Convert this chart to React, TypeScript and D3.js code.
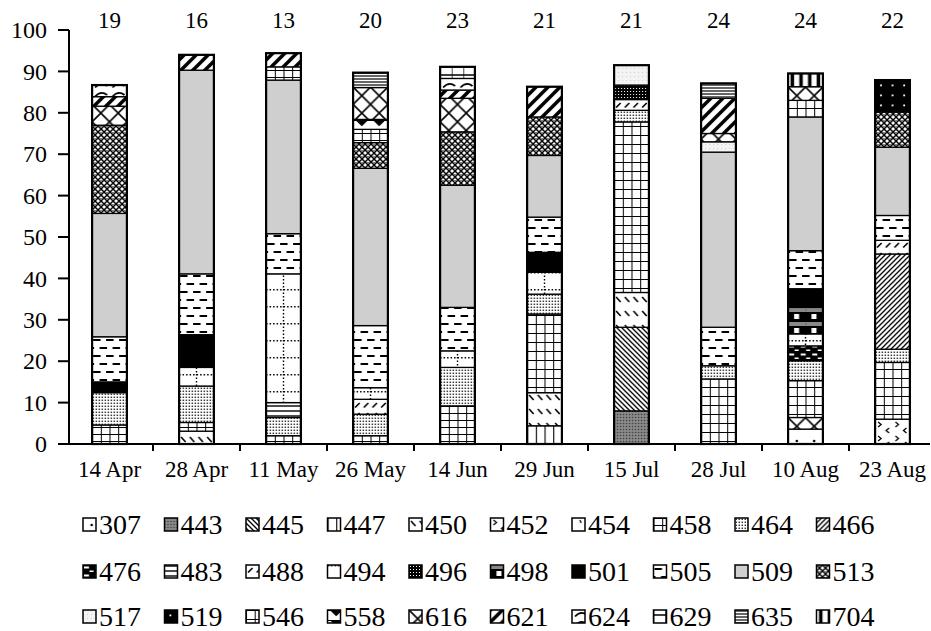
import React from 'react';
import * as d3 from 'd3';

const dates = ["14 Apr", "28 Apr", "11 May", "26 May", "14 Jun", "29 Jun", "15 Jul", "28 Jul", "10 Aug", "23 Aug"];
const speciesCounts = [19, 16, 13, 20, 23, 21, 21, 24, 24, 22];
const yTicks = [0, 10, 20, 30, 40, 50, 60, 70, 80, 90, 100];
const legendRow1 = ["307", "443", "445", "447", "450", "452", "454", "458", "464", "466"];
const legendRow2 = ["476", "483", "488", "494", "496", "498", "501", "505", "509", "513"];
const legendRow3 = ["517", "519", "546", "558", "616", "621", "624", "629", "635", "704"];

// stacked segments, bottom to top: [species code, percentage]
const apr14: [string, number][] = [["458", 4.6], ["464", 7.8], ["501", 2.6], ["505", 10.9], ["509", 29.8], ["513", 21.3], ["616", 4.6], ["621", 2.3], ["624", 2.8]];
const apr28: [string, number][] = [["450", 3.1], ["458", 2.1], ["464", 8.8], ["494", 4.5], ["501", 7.9], ["505", 14.7], ["509", 49.2], ["621", 3.7]];
const may11: [string, number][] = [["458", 2.0], ["464", 4.4], ["483", 3.6], ["494", 31.1], ["505", 9.7], ["509", 37.1], ["458", 3.2], ["621", 3.3]];
const may26: [string, number][] = [["458", 2.0], ["464", 5.2], ["488", 3.6], ["494", 2.8], ["505", 15.0], ["509", 38.0], ["513", 6.2], ["458", 3.2], ["558", 2.4], ["616", 7.7], ["635", 3.6]];
const jun14: [string, number][] = [["458", 9.2], ["464", 9.3], ["494", 4.0], ["505", 10.5], ["509", 29.5], ["513", 12.9], ["616", 8.1], ["621", 2.0], ["624", 2.8], ["629", 2.8]];
const jun29: [string, number][] = [["447", 4.4], ["450", 8.0], ["546", 19.0], ["464", 4.8], ["494", 5.3], ["501", 4.8], ["505", 8.5], ["509", 14.9], ["513", 9.3], ["621", 7.3]];
const jul15: [string, number][] = [["443", 8.0], ["445", 20.2], ["450", 8.4], ["546", 41.2], ["464", 2.8], ["488", 2.6], ["496", 3.5], ["517", 4.8]];
const jul28: [string, number][] = [["546", 15.7], ["464", 3.2], ["505", 9.3], ["509", 42.3], ["517", 2.5], ["616", 2.0], ["621", 8.5], ["635", 3.6]];
const aug10: [string, number][] = [["307", 3.6], ["616", 2.8], ["546", 8.9], ["464", 4.8], ["476", 3.6], ["494", 2.9], ["498", 6.4], ["501", 4.5], ["505", 9.2], ["509", 32.3], ["546", 4.0], ["616", 3.3], ["704", 3.2]];
const aug23: [string, number][] = [["452", 6.0], ["546", 13.7], ["464", 3.2], ["466", 23.0], ["488", 3.3], ["505", 6.0], ["509", 16.5], ["513", 8.5], ["519", 7.7]];

const stacks = [apr14, apr28, may11, may26, jun14, jun29, jul15, jul28, aug10, aug23];

const FONT = "'Liberation Serif', 'Times New Roman', serif";

function Patterns() {
  const P = (id: string, w: number, h: number, bg: string, children: React.ReactNode) => (
    <pattern id={"p" + id} key={id} patternUnits="userSpaceOnUse" width={w} height={h}>
      <rect width={w} height={h} fill={bg} />
      {children}
    </pattern>
  );
  return (
    <defs>
      {P("307", 17.4, 14, "#fff", <circle cx={8.7} cy={7} r={1.3} fill="#000" />)}
      {P("443", 3, 3, "#7d7d7d", <><rect width={1} height={1} fill="#3a3a3a" /><rect x={1.5} y={1.5} width={1} height={1} fill="#b0b0b0" /></>)}
      {P("445", 5, 5, "#fff", <path d="M0,0 L5,5 M-1,4 L1,6 M4,-1 L6,1" stroke="#000" strokeWidth={1.3} />)}
      {P("447", 8.7, 10, "#fff", <path d="M0,0 V10" stroke="#000" strokeWidth={2.2} />)}
      {P("450", 8.7, 14, "#fff", <path d="M2,3 L6.5,8" stroke="#000" strokeWidth={1.6} />)}
      {P("452", 17.4, 14, "#fff", <path d="M3,2 L6,4.5 L3,7 M14,8 L11,10.5 L14,13" stroke="#000" strokeWidth={1.3} fill="none" />)}
      {P("454", 17.4, 14, "#fff", <path d="M8,2 L9,5" stroke="#000" strokeWidth={1.3} />)}
      {P("458", 8.7, 7, "#fff", <path d="M0,0 H8.7 M0,0 V7" stroke="#000" strokeWidth={2} />)}
      {P("464", 3, 3, "#fff", <rect x={0.6} y={0.6} width={1.3} height={1.3} fill="#000" />)}
      {P("466", 5, 5, "#fff", <path d="M0,5 L5,0 M-1,1 L1,-1 M4,6 L6,4" stroke="#000" strokeWidth={1.3} />)}
      {P("476", 11.6, 8, "#000", <><rect x={1} y={1.5} width={5} height={2} fill="#fff" /><rect x={6.5} y={5.5} width={4} height={1.5} fill="#fff" /></>)}
      {P("483", 10, 5, "#fff", <path d="M0,1 H10" stroke="#000" strokeWidth={1.4} />)}
      {P("488", 8.7, 10, "#fff", <path d="M2,7.5 L6.5,3" stroke="#000" strokeWidth={1.7} />)}
      {P("494", 34.8, 17, "#fff", <path d="M17.4,0 V17 M0,0.8 H34.8" stroke="#000" strokeWidth={1.4} strokeDasharray="1.5,2" />)}
      {P("496", 3, 3, "#000", <rect x={1} y={1} width={1} height={1} fill="#fff" />)}
      {P("498", 17.4, 14, "#000", <><rect width={17.4} height={4} fill="#888" /><rect x={0} y={1.5} width={1} height={1} fill="#444" /><rect x={6} y={6} width={5} height={5} fill="#fff" /></>)}
      {P("501", 4, 4, "#000", null)}
      {P("505", 13, 16, "#fff", <path d="M1,4 H8.5 M7.5,12 H15 M-5.5,12 H2" stroke="#000" strokeWidth={2} />)}
      {P("509", 4, 4, "#cfcfcf", null)}
      {P("513", 6, 6, "#fff", <><path d="M0,0 L6,6 M6,0 L0,6" stroke="#000" strokeWidth={1.5} /><rect x={2.5} y={0} width={1} height={1} fill="#000" /></>)}
      {P("517", 4, 4, "#f3f3f3", <rect width={1} height={1} fill="#cfcfcf" />)}
      {P("519", 11.6, 10, "#000", <rect x={5} y={4.5} width={1.8} height={1.8} fill="#fff" />)}
      {P("546", 8.7, 9, "#fff", <path d="M0,0 H8.7 M0,0 V9" stroke="#000" strokeWidth={2} />)}
      {P("558", 17.4, 10, "#fff", <path d="M0,0.5 H17.4 M4,1 L13.4,1 L8.7,5.5 Z" stroke="#000" strokeWidth={1} fill="#000" />)}
      {P("616", 17.4, 17.4, "#fff", <path d="M0,0 L17.4,17.4 M17.4,0 L0,17.4" stroke="#000" strokeWidth={1.6} />)}
      {P("621", 12, 12, "#fff", <path d="M-3,3 L3,-3 M0,12 L12,0 M9,15 L15,9" stroke="#000" strokeWidth={3.5} />)}
      {P("624", 17.4, 9, "#fff", <path d="M3,6.5 Q9,0 15,5" stroke="#000" strokeWidth={1.8} fill="none" />)}
      {P("629", 11.6, 10, "#fff", <path d="M0,0 V10 M0,5 H11.6" stroke="#000" strokeWidth={1.4} />)}
      {P("635", 10, 3, "#fff", <path d="M0,1 H10" stroke="#000" strokeWidth={1.2} />)}
      {P("704", 8.7, 10, "#fff", <rect x={2.5} y={0} width={3.5} height={10} fill="#000" />)}
    </defs>
  );
}

export default function App() {
  const width = 931;
  const height = 631;
  const x = d3.scaleBand<string>().domain(dates).range([66, 936]).paddingInner(0.6).paddingOuter(0.3);
  const y = d3.scaleLinear().domain([0, 100]).range([444, 30]);
  const bw = x.bandwidth();
  const step = x.step();
  const axisX = 69;

  const legendRows = [legendRow1, legendRow2, legendRow3];
  const legendBaselines = [534, 581, 626];

  return (
    <svg width={width} height={height} style={{ position: 'absolute', left: 0, top: 0, background: '#fff' }} fontFamily={FONT}>
      <Patterns />
      {dates.map((d, i) => {
        const segs = stacks[i];
        const tops = d3.cumsum(segs.map(s => s[1]));
        const total = tops[tops.length - 1];
        return (
          <g key={d} transform={`translate(${x(d)},0)`}>
            {segs.map((s, j) => {
              const lo = j === 0 ? 0 : tops[j - 1];
              const hi = tops[j];
              return (
                <rect key={j} x={0} width={bw} y={y(hi)} height={y(lo) - y(hi)}
                  fill={`url(#p${s[0]})`} stroke="#000" strokeWidth={1.3} />
              );
            })}
            <rect x={0} width={bw} y={y(total)} height={y(0) - y(total)} fill="none" stroke="#000" strokeWidth={2.2} />
          </g>
        );
      })}
      {dates.map((d, i) => (
        <text key={"c" + d} x={(x(d) as number) + bw / 2} y={28} textAnchor="middle" fontSize={23}>{speciesCounts[i]}</text>
      ))}
      <line x1={axisX} x2={axisX} y1={y(100)} y2={y(0)} stroke="#000" strokeWidth={2} />
      {yTicks.map(t => (
        <g key={"yt" + t}>
          <line x1={axisX - 11} x2={axisX} y1={y(t)} y2={y(t)} stroke="#000" strokeWidth={2} />
          <text x={axisX - 22} y={y(t)} dy="0.34em" textAnchor="end" fontSize={24}>{t}</text>
        </g>
      ))}
      <line x1={axisX} x2={930} y1={y(0)} y2={y(0)} stroke="#000" strokeWidth={2} />
      {dates.slice(1).map(d => (
        <line key={"xt" + d} x1={(x(d) as number) - step * 0.3} x2={(x(d) as number) - step * 0.3} y1={y(0)} y2={y(0) + 7} stroke="#000" strokeWidth={2} />
      ))}
      {dates.map(d => (
        <text key={"xl" + d} x={(x(d) as number) + bw / 2} y={477} textAnchor="middle" fontSize={23}>{d}</text>
      ))}
      {legendRows.map((row, r) => row.map((code, c) => {
        const lx = 83 + c * 81.5;
        const by = legendBaselines[r];
        return (
          <g key={"lg" + code} transform={`translate(${lx},${by - 16})`}>
            <rect x={0} y={0} width={13} height={13} fill={`url(#p${code})`} stroke="#000" strokeWidth={1.5} />
            <text x={16} y={16} fontSize={28}>{code}</text>
          </g>
        );
      }))}
    </svg>
  );
}
